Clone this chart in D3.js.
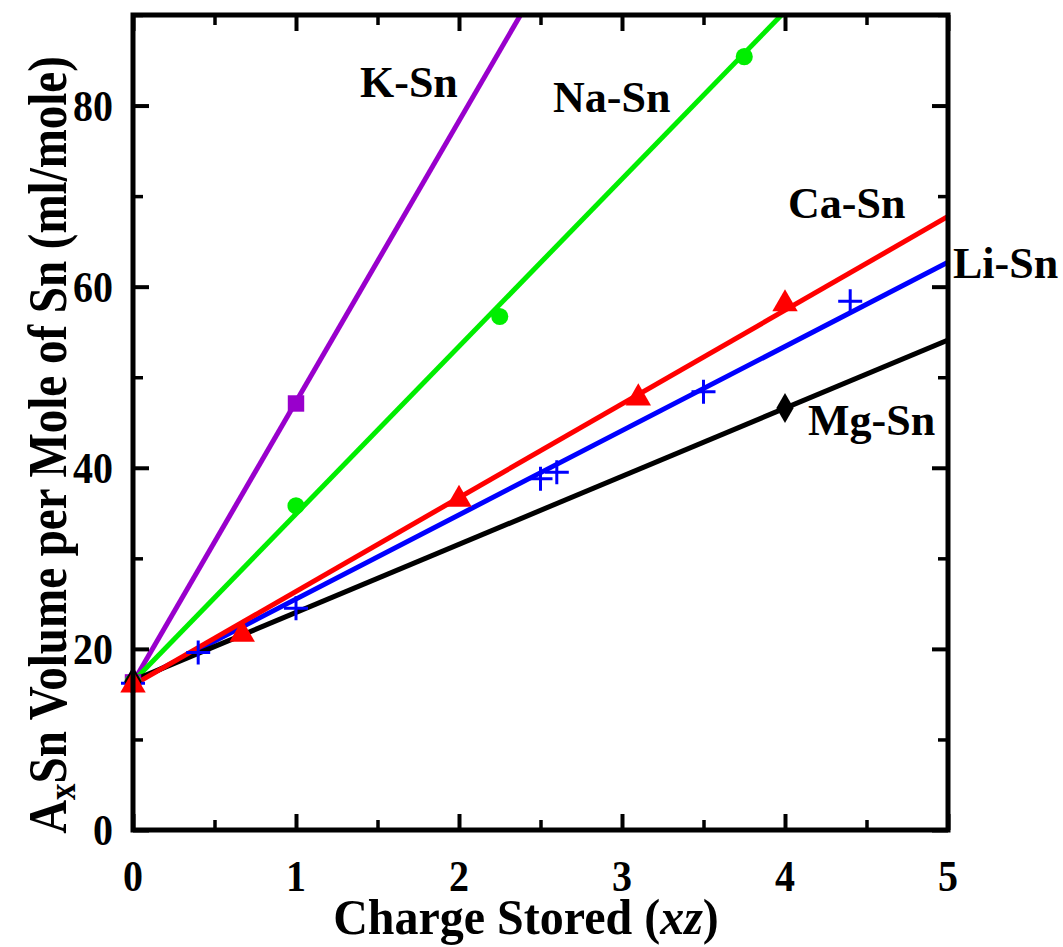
<!DOCTYPE html>
<html>
<head>
<meta charset="utf-8">
<script src="https://cdn.jsdelivr.net/npm/d3@7"></script>
<style>
  html, body { margin: 0; padding: 0; background: #fff; }
  svg text { font-family: "Liberation Serif", "Times New Roman", serif; font-weight: bold; fill: #000; }
</style>
</head>
<body>
<svg id="chart" width="1063" height="947"></svg>
<script>
// Axis ticks
const xMajorTicks = [0, 1, 2, 3, 4, 5];
const xMinorTicks = [0.5, 1.5, 2.5, 3.5, 4.5];
const yMajorTicks = [0, 20, 40, 60, 80];
const yMinorTicks = [10, 30, 50, 70, 90];

// Measured volumes per alloy system
const kX  = [0, 1];
const kY  = [16.3, 47.1];
const naX = [0, 1, 2.25, 3.75];
const naY = [16.3, 35.8, 56.7, 85.4];
const caX = [0, 0.67, 2, 3.1, 4];
const caY = [16.0, 21.6, 36.5, 47.7, 58.1];
const liX = [0, 0.4, 1, 2.5, 2.6, 3.5, 4.4];
const liY = [16.2, 19.6, 24.5, 38.8, 39.5, 48.4, 58.4];
const mgX = [0, 4];
const mgY = [16.4, 46.6];

// Linear fits (intercept, slope) per system
const fitIntercept = { K: 16.3, Na: 16.4, Ca: 16.0, Li: 16.2, Mg: 16.5 };
const fitSlope     = { K: 31.0, Na: 18.5, Ca: 10.35, Li: 9.3, Mg: 7.52 };

const seriesNames = ["K", "Na", "Li", "Mg", "Ca"];
const seriesLabels = { K: "K-Sn", Na: "Na-Sn", Ca: "Ca-Sn", Li: "Li-Sn", Mg: "Mg-Sn" };
const seriesColors = { K: "#9900cc", Na: "#00ee00", Ca: "#ff0000", Li: "#0000ff", Mg: "#000000" };
const seriesX = { K: kX, Na: naX, Ca: caX, Li: liX, Mg: mgX };
const seriesY = { K: kY, Na: naY, Ca: caY, Li: liY, Mg: mgY };

const svg = d3.select("#chart");
const mLeft = 133, mRight = 948, mTop = 15, mBottom = 830;
const W = mRight - mLeft, H = mBottom - mTop;

const x = d3.scaleLinear().domain([0, 5]).range([0, W]);
const y = d3.scaleLinear().domain([0, 90]).range([H, 0]);

const g = svg.append("g").attr("transform", `translate(${mLeft},${mTop})`);

g.append("clipPath").attr("id", "plotClip")
  .append("rect").attr("x", 0).attr("y", 0).attr("width", W).attr("height", H);

// Fit lines
const plot = g.append("g").attr("clip-path", "url(#plotClip)");
const lineGen = d3.line().x(d => x(d[0])).y(d => y(d[1]));

seriesNames.forEach(name => {
  const a = fitIntercept[name], b = fitSlope[name];
  const xEnd = Math.min(5, (90 - a) / b + 0.05);
  plot.append("path")
    .datum([[0, a], [xEnd, a + b * xEnd]])
    .attr("d", lineGen)
    .attr("fill", "none")
    .attr("stroke", seriesColors[name])
    .attr("stroke-width", 5);
});

// Markers
const markerSym = {
  K: d3.symbol().type(d3.symbolSquare).size(270),
  Na: d3.symbol().type(d3.symbolCircle).size(230),
  Ca: d3.symbol().type(d3.symbolTriangle).size(280),
  Mg: d3.symbol().type(d3.symbolDiamond).size(260)
};

seriesNames.forEach(name => {
  const pts = seriesX[name].map((v, i) => [v, seriesY[name][i]]);
  const mg = g.append("g");
  if (name === "Li") {
    mg.selectAll("path").data(pts).enter().append("path")
      .attr("transform", d => `translate(${x(d[0])},${y(d[1])})`)
      .attr("d", "M-12,0H12M0,-12V12")
      .attr("stroke", seriesColors[name])
      .attr("stroke-width", 3)
      .attr("fill", "none");
  } else {
    mg.selectAll("path").data(pts).enter().append("path")
      .attr("transform", d => `translate(${x(d[0])},${y(d[1])})`)
      .attr("d", markerSym[name]())
      .attr("fill", seriesColors[name]);
  }
});

// Axes with inward ticks on all four sides
function styleAxis(sel, width) {
  sel.select(".domain").remove();
  sel.selectAll(".tick line").attr("stroke", "#000").attr("stroke-width", width);
  sel.selectAll(".tick text").remove();
}
const major = 16, minor = 10;
g.append("g").attr("transform", `translate(0,${H})`)
  .call(d3.axisBottom(x).tickValues(xMajorTicks).tickSize(-major)).call(s => styleAxis(s, 4));
g.append("g").attr("transform", `translate(0,${H})`)
  .call(d3.axisBottom(x).tickValues(xMinorTicks).tickSize(-minor)).call(s => styleAxis(s, 3.5));
g.append("g")
  .call(d3.axisTop(x).tickValues(xMajorTicks).tickSize(-major)).call(s => styleAxis(s, 4));
g.append("g")
  .call(d3.axisTop(x).tickValues(xMinorTicks).tickSize(-minor)).call(s => styleAxis(s, 3.5));
g.append("g")
  .call(d3.axisLeft(y).tickValues(yMajorTicks).tickSize(-major)).call(s => styleAxis(s, 4));
g.append("g")
  .call(d3.axisLeft(y).tickValues(yMinorTicks).tickSize(-minor)).call(s => styleAxis(s, 3.5));
g.append("g").attr("transform", `translate(${W},0)`)
  .call(d3.axisRight(y).tickValues(yMajorTicks).tickSize(-major)).call(s => styleAxis(s, 4));
g.append("g").attr("transform", `translate(${W},0)`)
  .call(d3.axisRight(y).tickValues(yMinorTicks).tickSize(-minor)).call(s => styleAxis(s, 3.5));

// Frame
g.append("rect").attr("x", 0).attr("y", 0).attr("width", W).attr("height", H)
  .attr("fill", "none").attr("stroke", "#000").attr("stroke-width", 5);

// Tick labels
const sy = 1.1;
g.selectAll(".xlab").data(xMajorTicks).enter().append("text")
  .attr("transform", d => `translate(${x(d)},${H + 61}) scale(1,${sy})`)
  .attr("text-anchor", "middle")
  .style("font-size", "40px")
  .text(d => d);
g.selectAll(".ylab").data(yMajorTicks).enter().append("text")
  .attr("transform", d => `translate(-20,${y(d) + 15}) scale(1,${sy})`)
  .attr("text-anchor", "end")
  .style("font-size", "40px")
  .text(d => d);

// Axis titles
const xt = svg.append("text")
  .attr("transform", `translate(526,934) scale(1,1.04)`)
  .attr("text-anchor", "middle")
  .style("font-size", "48px");
xt.append("tspan").text("Charge Stored (");
xt.append("tspan").style("font-style", "italic").text("xz");
xt.append("tspan").text(")");

const yt = svg.append("text")
  .attr("transform", `translate(66,445) rotate(-90) scale(1,1.15)`)
  .attr("text-anchor", "middle")
  .style("font-size", "47px");
yt.append("tspan").text("A");
yt.append("tspan").attr("dy", 8).style("font-size", "33px").text("x");
yt.append("tspan").attr("dy", -8).text("Sn Volume per Mole of Sn (ml/mole)");

// Series labels
const labelPos = {
  K: [360, 97], Na: [553, 112], Ca: [788, 218], Li: [953, 278], Mg: [808, 435]
};
Object.keys(labelPos).forEach(name => {
  svg.append("text")
    .attr("transform", `translate(${labelPos[name][0]},${labelPos[name][1]})`)
    .style("font-size", "44px")
    .text(seriesLabels[name]);
});
</script>
</body>
</html>
